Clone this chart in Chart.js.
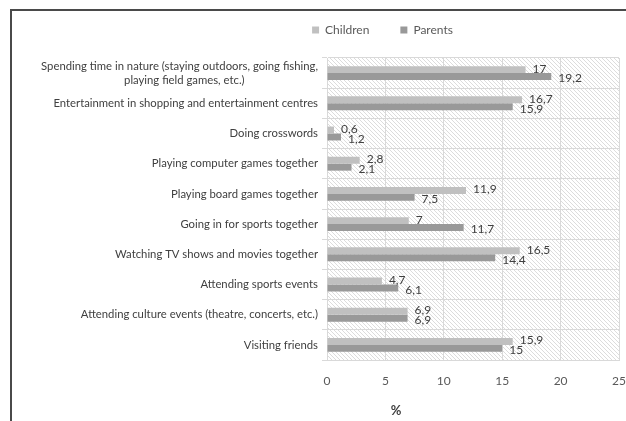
<!DOCTYPE html>
<html>
<head>
<meta charset="utf-8">
<script src="https://cdn.jsdelivr.net/npm/chart.js@4.4.0/dist/chart.umd.min.js"></script>
<style>
  html, body { margin: 0; padding: 0; background: #fff; }
  #wrap { position: relative; width: 626px; height: 421px; overflow: hidden; }
  #frame {
    position: absolute; left: 10px; top: 9px; right: -4px; bottom: -4px;
    border-top: 2px solid #4a4a4a; border-left: 2px solid #4a4a4a;
  }
  canvas { position: absolute; left: 0; top: 0; }
</style>
</head>
<body>
<div id="wrap">
  <div id="frame"></div>
  <canvas id="leisureChart" width="626" height="421"></canvas>
</div>
<script>
const activities = [
  ["Spending time in nature (staying outdoors, going fishing,", "playing field games, etc.)"],
  "Entertainment in shopping and entertainment centres",
  "Doing crosswords",
  "Playing computer games together",
  "Playing board games together",
  "Going in for sports together",
  "Watching TV shows and movies together",
  "Attending sports events",
  "Attending culture events (theatre, concerts, etc.)",
  "Visiting friends"
];
const children = [17, 16.7, 0.6, 2.8, 11.9, 7, 16.5, 4.7, 6.9, 15.9];
const parents = [19.2, 15.9, 1.2, 2.1, 7.5, 11.7, 14.4, 6.1, 6.9, 15];
const xMax = 25;
const xStep = 5;

const fontFamily = "Lato, 'Open Sans', sans-serif";

// second line of the first label sits centred under the first one
function centreSecondLine(label) {
  if (!Array.isArray(label)) return label;
  return [label[0], label[1] + "\u2002".repeat(13)];
}

// light diagonal hatching behind the bars
function hatchPattern(ctx) {
  const tile = document.createElement("canvas");
  tile.width = 4;
  tile.height = 4;
  const t = tile.getContext("2d");
  t.fillStyle = "#ffffff";
  t.fillRect(0, 0, 4, 4);
  t.fillStyle = "#dcdcdc";
  for (let i = 0; i < 4; i++) t.fillRect(i, i, 1, 1);
  return ctx.createPattern(tile, "repeat");
}

const plotBackground = {
  id: "plotBackground",
  beforeDraw(chart) {
    const { ctx, chartArea } = chart;
    ctx.save();
    ctx.fillStyle = hatchPattern(ctx);
    ctx.fillRect(chartArea.left, chartArea.top, chartArea.right - chartArea.left, chartArea.bottom - chartArea.top);
    ctx.restore();
  }
};

// legend box is taller than its row and sits right of centre
const legendPlacement = {
  id: "legendPlacement",
  beforeUpdate(chart) {
    const legend = chart.legend;
    if (legend && !legend._patched) {
      const fit = legend.fit.bind(legend);
      legend.fit = function () {
        fit();
        this.height = 58;
      };
      legend._patched = true;
    }
  },
  afterLayout(chart) {
    const legend = chart.legend;
    legend.left += 73;
    legend.right += 73;
    legend.top -= 7;
    legend.bottom -= 7;
  }
};

const valueLabels = {
  id: "valueLabels",
  afterDatasetsDraw(chart) {
    const ctx = chart.ctx;
    ctx.save();
    ctx.font = "12px " + fontFamily;
    ctx.fillStyle = "#404040";
    ctx.textAlign = "left";
    ctx.textBaseline = "middle";
    chart.data.datasets.forEach((ds, i) => {
      chart.getDatasetMeta(i).data.forEach((bar, j) => {
        const txt = String(ds.data[j]).replace(".", ",");
        ctx.fillText(txt, bar.x + 7, bar.y + (i === 0 ? -1 : 2));
      });
    });
    ctx.restore();
  }
};

const axisTitle = {
  id: "axisTitle",
  afterDraw(chart) {
    const ctx = chart.ctx;
    ctx.save();
    ctx.font = "bold 13px " + fontFamily;
    ctx.fillStyle = "#404040";
    ctx.textAlign = "center";
    ctx.textBaseline = "middle";
    ctx.fillText("%", chart.chartArea.left + 69, 411);
    ctx.restore();
  }
};

new Chart("leisureChart", {
  type: "bar",
  data: {
    labels: activities.map(centreSecondLine),
    datasets: [
      { label: "Children", data: children, backgroundColor: "#c0c0c0" },
      { label: "Parents", data: parents, backgroundColor: "#999999" }
    ]
  },
  options: {
    indexAxis: "y",
    responsive: false,
    animation: false,
    events: [],
    categoryPercentage: 0.46,
    barPercentage: 1,
    layout: { padding: { top: 0, right: 7, left: 0, bottom: 0 } },
    plugins: {
      tooltip: { enabled: false },
      legend: {
        position: "top",
        labels: {
          boxWidth: 7,
          boxHeight: 7,
          padding: 31,
          color: "#595959",
          font: { family: fontFamily, size: 12 }
        }
      }
    },
    scales: {
      x: {
        min: 0,
        max: xMax,
        ticks: {
          stepSize: xStep,
          padding: 14,
          color: "#595959",
          font: { family: fontFamily, size: 12 }
        },
        grid: { color: "#d9d9d9", drawTicks: false },
        border: { color: "#d9d9d9" },
        afterFit(scale) {
          scale.height = 61;
          scale.paddingLeft = 0;
          scale.paddingRight = 0;
        }
      },
      y: {
        ticks: {
          color: "#404040",
          padding: 4,
          font: { family: fontFamily, size: 11.3 }
        },
        grid: { color: "#d9d9d9", offset: true, tickLength: 5 },
        border: { color: "#d9d9d9" },
        afterFit(scale) { scale.width = 327; }
      }
    }
  },
  plugins: [plotBackground, legendPlacement, valueLabels, axisTitle]
});
</script>
</body>
</html>
